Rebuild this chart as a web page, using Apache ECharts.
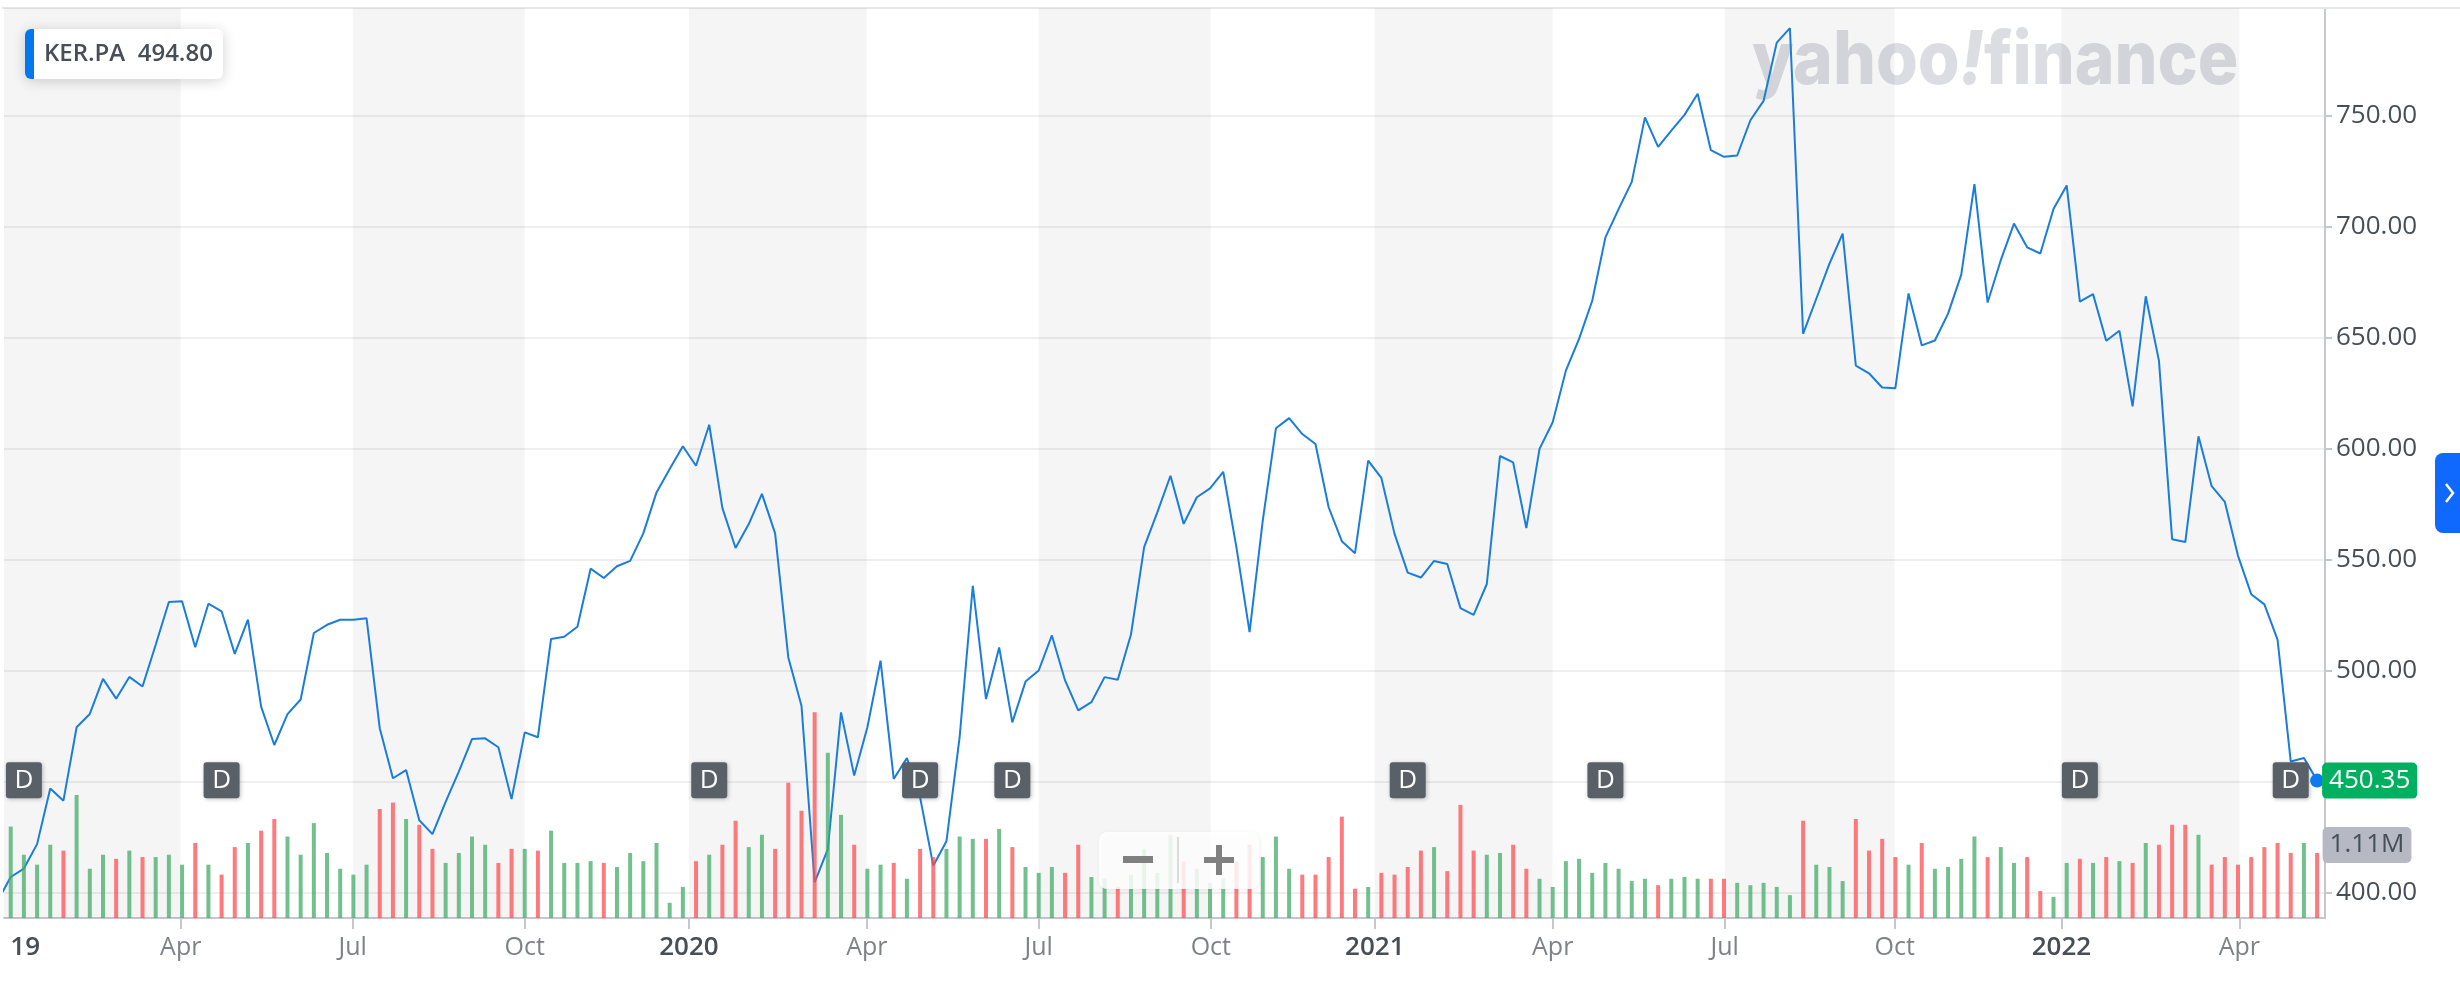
<!DOCTYPE html>
<html>
<head>
<meta charset="utf-8">
<title>KER.PA</title>
<script src="https://cdn.jsdelivr.net/npm/echarts@6/dist/echarts.min.js"></script>
<style>
  html, body { margin: 0; padding: 0; background: #fff; }
  #chart { width: 2460px; height: 986px; }
</style>
</head>
<body>
<div id="chart"></div>
<script>
// weekly closes, index in the array = week number on the x axis (week 0 is cut off by the left edge)
const closes = [
  396, 406.9, 410.7, 421.7, 446.8, 441.3, 474.4, 480.4, 496.2, 487.3,
  497.1, 492.8, 511.6, 530.9, 531.2, 510.5, 530.1, 526.7, 507.5, 522.9,
  483.7, 466.4, 480.3, 486.9, 516.9, 520.6, 522.9, 522.9, 523.5, 474,
  451.4, 455.1, 432.5, 426.2, 440.8, 454.4, 469.1, 469.4, 465.4, 442,
  472.1, 469.9, 514.2, 515.2, 519.7, 545.9, 541.7, 547, 549.4, 561.8,
  580.3, 590.8, 601.1, 592.3, 610.8, 573.2, 555.2, 566, 579.6, 561.8,
  505.9, 484.1, 404.5, 419.5, 481.1, 452.6, 474.4, 504.4, 451.1, 460.5,
  442.8, 412, 423, 469.9, 538.2, 487.1, 510.4, 476.6, 495, 500,
  515.8, 495.5, 482, 485.7, 497, 495.8, 516.2, 555.6, 571.3, 587.8,
  566.1, 578.1, 582.1, 589.6, 555.6, 517.3, 567.6, 609.2, 613.8, 606.6,
  602.1, 573.6, 558.3, 552.9, 594.6, 586.8, 561.6, 544.1, 541.9, 549.4,
  548, 528.1, 525.1, 539, 596.7, 593.8, 564.2, 599.9, 611.9, 635.2,
  649.5, 666.7, 695.3, 708, 720.3, 749.4, 736.1, 743.4, 750.5, 760,
  734.6, 731.6, 732.2, 748.1, 756.8, 783.1, 789.6, 651.8, 667.6, 683.4,
  697, 637.5, 634, 627.6, 627.3, 670, 646.6, 648.8, 660.9, 678.5,
  719.3, 665.9, 685, 701.5, 690.8, 688, 708.1, 718.7, 666.3, 669.7,
  648.7, 653.2, 619.1, 668.7, 639.7, 559.2, 557.9, 605.6, 583.1, 576,
  551.7, 534.4, 529.8, 513.9, 459, 460.5, 450.35
];

// volume in millions
const volumes = [
  null, 1.56, 1.08, 0.91, 1.25, 1.15, 2.10, 0.84, 1.08, 1.01,
  1.15, 1.04, 1.04, 1.08, 0.91, 1.28, 0.91, 0.74, 1.21, 1.28,
  1.49, 1.69, 1.39, 1.08, 1.62, 1.11, 0.84, 0.74, 0.91, 1.86,
  1.97, 1.69, 1.59, 1.18, 0.94, 1.11, 1.39, 1.25, 0.94, 1.18,
  1.18, 1.15, 1.49, 0.94, 0.94, 0.97, 0.94, 0.87, 1.11, 0.97,
  1.28, 0.26, 0.53, 0.97, 1.08, 1.25, 1.66, 1.21, 1.42, 1.18,
  2.31, 1.83, 3.51, 2.82, 1.76, 1.25, 0.84, 0.91, 0.94, 0.67,
  1.18, 1.04, 1.18, 1.39, 1.35, 1.35, 1.52, 1.21, 0.87, 0.77,
  0.87, 0.77, 1.25, 0.70, 0.67, 0.53, 0.74, 1.18, 0.77, 1.42,
  0.97, 0.84, 0.60, 0.68, 0.97, 1.25, 1.04, 1.39, 0.84, 0.74,
  0.74, 1.04, 1.73, 0.50, 0.53, 0.77, 0.74, 0.87, 1.15, 1.21,
  0.80, 1.93, 1.15, 1.08, 1.11, 1.25, 0.84, 0.67, 0.53, 0.97,
  1.01, 0.77, 0.94, 0.84, 0.63, 0.67, 0.56, 0.67, 0.70, 0.67,
  0.67, 0.67, 0.60, 0.56, 0.60, 0.53, 0.39, 1.66, 0.91, 0.87,
  0.63, 1.69, 1.15, 1.35, 1.04, 0.91, 1.28, 0.84, 0.87, 1.01,
  1.39, 1.04, 1.21, 0.94, 1.04, 0.46, 0.36, 0.94, 1.01, 0.94,
  1.04, 0.97, 0.94, 1.28, 1.25, 1.59, 1.59, 1.42, 0.91, 1.04,
  0.91, 1.04, 1.21, 1.28, 1.11, 1.28, 1.11
];

// bar colour per week: G green, R red (first char is week 1)
const volumeColors = (
  'GGGGRGGGRGRGGGRGRRGR' + 'RGGGGGGGRRGRRGGGGRRG' +
  'RGGGGRGGGGGGRGRRGGRR' + 'RRGGRGGRGRRGGGRGRGGG' +
  'RRGGRGGGGRGGGRRGGGRR' + 'RRRGRRRRGRRRGGRRGGGG' +
  'GGGGGRGGGRRGGGGGRGGG' + 'RRRRGRGGGGRGGRRGGRGR' +
  'GRGRRRGRRRRRRRGR'
).split('');

// quarter marks on the week scale
const quarterTicks = [13.9, 26.95, 40, 52.46, 65.96, 79, 92.06, 104.5, 118, 131.05, 143.95, 156.6, 170.1];
const quarterLabels = ['Apr', 'Jul', 'Oct', '2020', 'Apr', 'Jul', 'Oct', '2021', 'Apr', 'Jul', 'Oct', '2022', 'Apr'];
const firstLabelWeek = 2.1;
const firstLabel = '19';

// dividend markers
const dividendWeeks = [2, 17, 54, 70, 77, 107, 122, 158, 174];
const dividendLevel = 450.5;

const priceTicks = [400, 450, 500, 550, 600, 650, 700, 750];
const lastPrice = 450.35;
const lastVolume = 1.11;
const compareLabel = 'KER.PA  494.80';

const xMin = 0.49;
const xMax = 176.6;

const fontFamily = '"Open Sans", "Noto Sans", sans-serif';
const axisGray = '#c4c7cb';

const bands = [[xMin, quarterTicks[0]]];
for (let i = 1; i + 1 < quarterTicks.length; i += 2) {
  bands.push([quarterTicks[i], quarterTicks[i + 1]]);
}

const myChart = echarts.init(document.getElementById('chart'), null, { renderer: 'canvas' });

myChart.setOption({
  animation: false,
  backgroundColor: '#fff',
  textStyle: { fontFamily },
  grid: { left: 4, right: 135, top: 8, bottom: 68 },
  xAxis: {
    type: 'value',
    min: xMin,
    max: xMax,
    axisLine: { show: true, onZero: false, lineStyle: { color: axisGray, width: 2 } },
    axisTick: { show: true, length: 11, customValues: quarterTicks, lineStyle: { color: axisGray, width: 2 } },
    splitLine: { show: false },
    axisLabel: {
      customValues: [firstLabelWeek].concat(quarterTicks),
      margin: 17,
      formatter: value => {
        if (value === firstLabelWeek) return '{year|' + firstLabel + '}';
        const text = quarterLabels[quarterTicks.indexOf(value)];
        return text.length === 4 ? '{year|' + text + '}' : '{month|' + text + '}';
      },
      rich: {
        month: { fontSize: 25, color: '#7d8289', fontWeight: 500, fontFamily },
        year: { fontSize: 26, color: '#464e56', fontWeight: 600, fontFamily }
      }
    }
  },
  yAxis: [
    {
      type: 'value',
      position: 'right',
      min: 388.4,
      max: 798.7,
      axisLine: { show: true, onZero: false, lineStyle: { color: axisGray, width: 2 } },
      axisTick: { show: true, length: 7, customValues: priceTicks, lineStyle: { color: axisGray, width: 2 } },
      splitLine: { show: true, lineStyle: { color: '#efeff0', width: 2 } },
      axisLabel: {
        customValues: priceTicks,
        margin: 11,
        fontSize: 26,
        color: '#464e56',
        fontFamily,
        formatter: value => value.toFixed(2)
      }
    },
    { type: 'value', min: 0, max: 15.53, show: false }
  ],
  series: [
    {
      name: 'KER.PA',
      type: 'line',
      z: 2,
      showSymbol: false,
      clip: true,
      lineStyle: { color: '#1a7ddb', width: 2 },
      data: closes.map((v, i) => [i, v]),
      markArea: {
        silent: true,
        itemStyle: { color: 'rgba(0,0,0,0.04)' },
        data: bands.map(b => [{ xAxis: b[0] }, { xAxis: b[1] }])
      },
      markPoint: {
        silent: true,
        symbol: 'circle',
        symbolSize: 14,
        itemStyle: { color: '#0a7cf0' },
        label: {
          show: true,
          position: 'right',
          distance: -2,
          formatter: lastPrice.toFixed(2),
          backgroundColor: '#00b061',
          borderRadius: 5,
          padding: [5, 7],
          color: '#fff',
          fontSize: 26,
          fontFamily
        },
        data: [{ coord: [closes.length - 1, lastPrice] }]
      }
    },
    {
      name: 'Volume',
      type: 'bar',
      yAxisIndex: 1,
      z: 3,
      barWidth: 4,
      data: volumes.map((v, i) => ({
        value: [i, v],
        itemStyle: { color: volumeColors[i - 1] === 'R' ? 'rgba(255,77,80,0.75)' : 'rgba(68,171,105,0.75)' }
      })),
      markPoint: {
        silent: true,
        symbol: 'circle',
        symbolSize: 1,
        itemStyle: { color: 'transparent' },
        label: {
          show: true,
          position: 'right',
          distance: 5,
          offset: [0, -8],
          formatter: lastVolume.toFixed(2) + 'M',
          backgroundColor: '#b6b9c3',
          borderRadius: 5,
          padding: [5, 7],
          color: '#464e56',
          fontSize: 26,
          fontFamily
        },
        data: [{ coord: [volumes.length - 1, lastVolume] }]
      }
    },
    {
      name: 'Dividends',
      type: 'scatter',
      z: 4,
      silent: true,
      symbol: 'path://M3,0H33A3,3 0 0 1 36,3V33A3,3 0 0 1 33,36H3A3,3 0 0 1 0,33V3A3,3 0 0 1 3,0Z',
      symbolSize: 36,
      itemStyle: { color: '#5a6068', opacity: 1, shadowColor: 'rgba(0,0,0,0.25)', shadowBlur: 4, shadowOffsetX: 1, shadowOffsetY: 1 },
      label: { show: true, position: 'inside', formatter: 'D', color: '#fff', fontSize: 26, fontFamily },
      data: dividendWeeks.map(w => [w, dividendLevel])
    }
  ],
  graphic: [
    // top border
    { type: 'rect', z: 1, shape: { x: 2, y: 7, width: 2458, height: 2 }, style: { fill: '#e4e6ea' } },
    // watermark
    {
      type: 'text',
      z: 0,
      x: 1752,
      y: 22,
      scaleX: 0.915,
      style: {
        text: '{a|yahoo}{b|!}{a|finance}',
        rich: {
          a: { fontSize: 74, fontWeight: 800, fontFamily: 'Inter', fill: '#dcdde2', lineHeight: 80 },
          b: { fontSize: 74, fontWeight: 800, fontStyle: 'italic', fontFamily: 'Inter', fill: '#dcdde2', lineHeight: 80 }
        }
      }
    },
    // compare chip
    {
      type: 'rect',
      z: 20,
      shape: { x: 25, y: 29, width: 198, height: 50, r: 6 },
      style: { fill: '#fff', shadowColor: 'rgba(0,0,0,0.18)', shadowBlur: 14, shadowOffsetY: 2 }
    },
    { type: 'rect', z: 21, shape: { x: 25, y: 29, width: 9, height: 50, r: [6, 0, 0, 6] }, style: { fill: '#0378ee' } },
    {
      type: 'text',
      z: 22,
      x: 44,
      y: 54,
      style: { text: compareLabel, fontSize: 24, fontWeight: 600, fontFamily, fill: '#464e56', verticalAlign: 'middle' }
    },
    // zoom buttons
    {
      type: 'rect',
      z: 30,
      shape: { x: 1099, y: 832, width: 160, height: 57, r: 8 },
      style: { fill: 'rgba(255,255,255,0.85)', shadowColor: 'rgba(0,0,0,0.08)', shadowBlur: 4, shadowOffsetX: 1, shadowOffsetY: 1 }
    },
    { type: 'rect', z: 31, shape: { x: 1177, y: 837, width: 2, height: 46 }, style: { fill: 'rgba(180,180,180,0.45)' } },
    { type: 'rect', z: 31, shape: { x: 1123, y: 856, width: 30, height: 7 }, style: { fill: '#808080' } },
    { type: 'rect', z: 31, shape: { x: 1204, y: 857, width: 30, height: 6 }, style: { fill: '#808080' } },
    { type: 'rect', z: 31, shape: { x: 1216, y: 845, width: 6, height: 30 }, style: { fill: '#808080' } },
    // side tab
    { type: 'rect', z: 30, shape: { x: 2435, y: 453, width: 25, height: 80, r: [8, 0, 0, 8] }, style: { fill: '#0f69ff' } },
    {
      type: 'polyline',
      z: 31,
      shape: { points: [[2446, 484], [2453, 493], [2446, 502]] },
      style: { stroke: '#fff', lineWidth: 2.5, fill: 'none' }
    }
  ]
});

window.addEventListener('resize', () => myChart.resize());
</script>
</body>
</html>
